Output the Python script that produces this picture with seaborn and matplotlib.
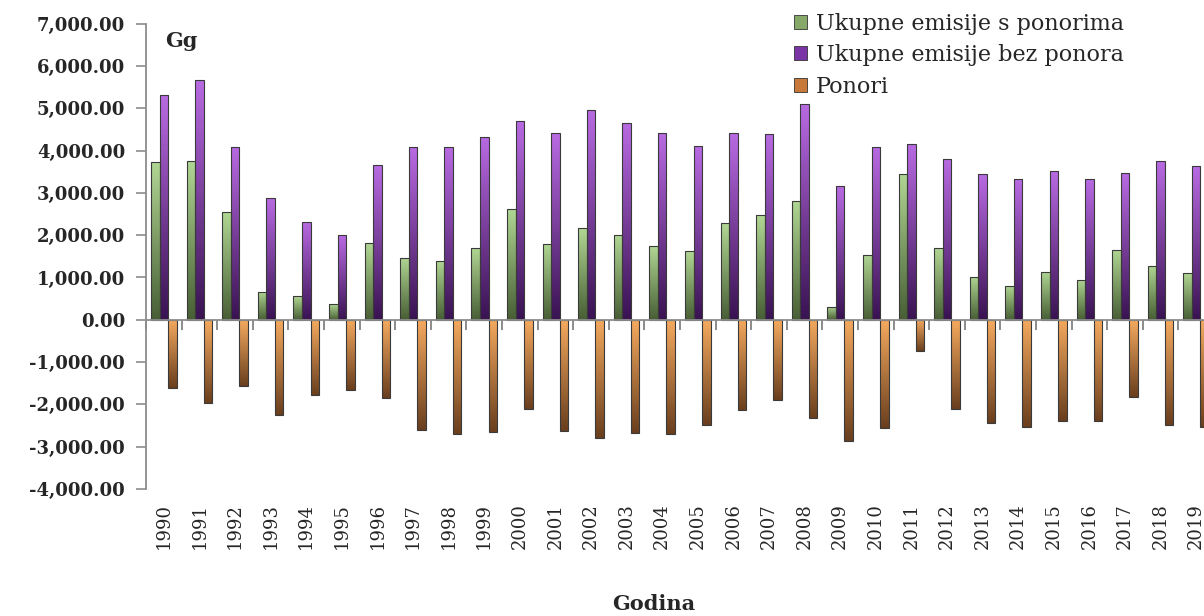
import matplotlib

matplotlib.use("Agg")
import matplotlib.pyplot as plt
import numpy as np
import pandas as pd
import seaborn as sns
from matplotlib.colors import LinearSegmentedColormap
from matplotlib.patches import Patch

# data (Gg)
years = [str(y) for y in range(1990, 2020)]
s_ponorima = [3719, 3750, 2553, 662, 567, 378, 1820, 1466, 1395, 1702,
              2624, 1797, 2175, 2009, 1749, 1631, 2293, 2482, 2813, 314,
              1537, 3442, 1702, 1017, 804, 1135, 946, 1655, 1277, 1111]
bez_ponora = [5303, 5681, 4097, 2884, 2317, 2009, 3655, 4082, 4097, 4333,
              4695, 4412, 4955, 4664, 4428, 4104, 4428, 4381, 5113, 3158,
              4082, 4151, 3790, 3442, 3324, 3513, 3340, 3466, 3750, 3631]
ponori = [-1608, -1962, -1560, -2246, -1773, -1655, -1844, -2600, -2695, -2648,
          -2104, -2624, -2790, -2671, -2695, -2482, -2128, -1891, -2317, -2861,
          -2553, -733, -2104, -2435, -2530, -2388, -2388, -1820, -2482, -2530]
series = ["Ukupne emisije s ponorima", "Ukupne emisije bez ponora", "Ponori"]

# light (top) / dark (bottom) colour of each series gradient
light = ["#b0d693", "#b86ae2", "#f4a95e"]
dark = ["#485f35", "#3a1352", "#6a3f1e"]
mid = ["#86a96a", "#7b34a6", "#c8793a"]

df = pd.DataFrame({
    "godina": years * 3,
    "vrijednost": s_ponorima + bez_ponora + ponori,
    "serija": [s for s in series for _ in years],
})

sns.set_style("white")
plt.rcParams["font.family"] = ["DejaVu Serif"]

fig = plt.figure(figsize=(12.04, 6.16), dpi=100)
ax = fig.add_axes([0.1213, 0.2062, 0.887, 0.7553])

sns.barplot(data=df, x="godina", y="vrijednost", hue="serija", hue_order=series,
            palette=mid, saturation=1, width=0.72, dodge=True, legend=False, ax=ax)

# replace flat fills with a vertical gradient clipped to each bar
for cont, lo, hi in zip(ax.containers, light, dark):
    cmap = LinearSegmentedColormap.from_list("g", [lo, hi])
    grad = np.linspace(0, 1, 64).reshape(-1, 1)
    for bar in cont:
        x0, y0 = bar.get_x(), bar.get_y()
        x1, y1 = x0 + bar.get_width(), y0 + bar.get_height()
        im = ax.imshow(grad, cmap=cmap, aspect="auto", origin="upper",
                       extent=(x0, x1, min(y0, y1), max(y0, y1)), zorder=2)
        im.set_clip_path(bar)
        bar.set_facecolor("none")
        bar.set_edgecolor("#3a3a3a")
        bar.set_linewidth(0.8)
        bar.set_zorder(3)

n = len(years)
ax.set_xlim(-0.5, n - 0.5)
ax.set_ylim(-4000, 7000)
ax.set_yticks(np.arange(-4000, 7001, 1000))
ax.yaxis.set_major_formatter(lambda v, p: f"{v:,.2f}")
ax.set_xlabel("")
ax.set_ylabel("")

grey = "#8c8c8c"
for side in ["top", "right"]:
    ax.spines[side].set_visible(False)
ax.spines["left"].set_color(grey)
ax.spines["left"].set_linewidth(1.3)
ax.spines["bottom"].set_position(("data", 0))
ax.spines["bottom"].set_color(grey)
ax.spines["bottom"].set_linewidth(1.3)
ax.spines["bottom"].set_zorder(4)

ax.tick_params(axis="y", left=True, length=7, width=1.2, color=grey, pad=8, labelsize=13)
for t in ax.get_yticklabels():
    t.set_fontweight("bold")
ax.tick_params(axis="x", which="major", length=0, labelbottom=False)
ax.set_xticks(np.arange(-0.5, n, 1), minor=True)
ax.tick_params(axis="x", which="minor", bottom=True, length=7, width=1.4,
               color=grey, direction="out")

sec = ax.secondary_xaxis(0.0)
sec.set_xticks(range(n), labels=years, rotation=90, fontsize=13)
sec.tick_params(length=0, pad=10)
sec.spines["bottom"].set_visible(False)

ax.text(0.018, 0.985, "Gg", transform=ax.transAxes, fontsize=15,
        fontweight="bold", va="top", ha="left")
fig.text(654 / 1204, 1 - 604 / 616, "Godina", fontsize=15, fontweight="bold",
         ha="center", va="center")

handles = [Patch(facecolor=c, edgecolor="#333333", linewidth=0.6) for c in mid]
fig.legend(handles, series, loc="upper left", bbox_to_anchor=(785 / 1204, 1 - 4 / 616),
           frameon=False, fontsize=16, handlelength=0.6, handleheight=0.6,
           handletextpad=0.4, labelspacing=0.42, borderaxespad=0)

fig.savefig("out.png", dpi=100)
plt.close(fig)
